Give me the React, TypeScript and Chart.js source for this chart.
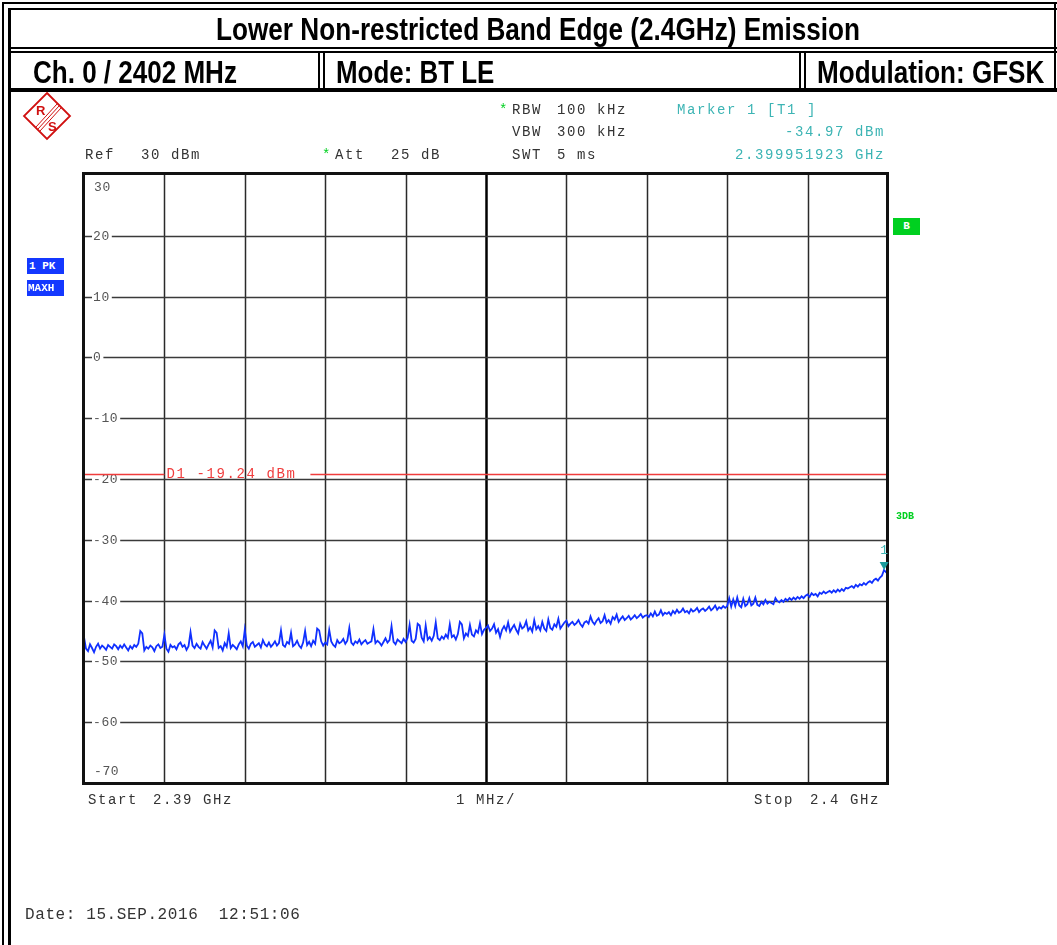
import React, { useEffect, useLayoutEffect, useRef, useState } from "react";
import { Chart, registerables } from "chart.js";

Chart.register(...registerables);

// ---- data ----
const START_GHZ = 2.39;
const STOP_GHZ = 2.4;
const REF_LEVEL_DBM = 30;
const BOTTOM_LEVEL_DBM = -70;
const Y_TICKS = [30, 20, 10, 0, -10, -20, -30, -40, -50, -60, -70];
const X_DIVISIONS = 10;
const D1_LEVEL_DBM = -19.24;
const D1_LABEL = "D1 -19.24 dBm";
const MARKER_FREQ_GHZ = 2.399951923;
const MARKER_DBM = -34.97;

const TRACE_DBM: number[] = [
  -46.0, -47.9, -48.3, -47.2, -47.8, -48.5, -47.6, -47.1, -47.9, -47.4,
  -47.7, -48.1, -47.3, -47.6, -47.9, -47.2, -47.5, -48.0, -47.4, -47.8,
  -47.2, -47.7, -48.2, -47.5, -47.9, -47.3, -47.6, -47.1, -45.0, -45.4,
  -48.2, -47.6, -47.9, -47.4, -47.7, -48.3, -47.5, -47.2, -47.8, -47.6,
  -45.6, -47.9, -48.4, -47.3, -47.7, -47.5, -48.0, -47.2, -46.9, -47.6,
  -47.3, -48.1, -47.5, -45.2, -47.4, -47.8, -47.1, -47.6, -47.9, -46.8,
  -47.4, -47.9, -47.2, -46.6, -47.7, -44.9, -45.3, -47.8, -47.5, -48.2,
  -47.0, -47.6, -45.4, -47.8, -47.3, -47.6, -48.0, -47.2, -46.7, -47.5,
  -44.8, -47.4, -47.9, -47.1, -46.8, -47.6, -47.3, -47.0, -47.7, -46.5,
  -47.2, -47.5, -46.9, -47.6, -47.2, -46.7, -47.4, -47.0, -44.9, -47.3,
  -47.6, -46.8, -47.1, -45.3, -47.5, -47.2, -46.6, -47.4, -47.8, -46.9,
  -45.0, -47.3, -46.8, -47.5, -46.6, -47.1, -44.6, -44.9, -46.7, -47.4,
  -46.9, -47.2, -44.8, -46.7, -47.3, -47.6, -46.5, -47.0, -46.8, -46.3,
  -47.1, -46.6, -44.5, -46.9, -47.3, -46.7, -47.0, -46.4, -47.2, -46.8,
  -46.5, -47.1, -46.9, -46.7, -44.7, -47.0, -46.6, -46.9, -47.4, -46.8,
  -46.2, -46.9, -46.5, -44.2, -46.8, -47.2, -46.4, -46.7, -47.0, -46.3,
  -46.8, -46.1, -44.0, -46.6, -46.9, -46.3, -43.8, -44.1, -46.1, -46.7,
  -44.1, -46.4, -46.0, -46.6, -45.8, -43.6, -46.2, -46.5, -45.9, -46.3,
  -45.6, -46.1, -43.9, -46.0, -45.7, -46.4, -45.5, -43.5, -43.9, -46.2,
  -45.4, -45.8, -44.0, -45.6, -45.9, -44.9, -45.3, -43.7, -45.5, -44.8,
  -44.5, -44.1, -45.0, -44.6, -43.9, -45.3, -44.7, -46.0, -44.8, -44.2,
  -44.9, -43.6, -45.1, -44.5, -44.0, -44.8, -45.4, -43.8, -44.6, -44.3,
  -43.4, -44.9, -44.4, -45.1, -43.2, -44.7, -44.2, -44.9, -43.5, -44.6,
  -45.0, -43.1, -44.5, -44.8, -43.9, -44.3, -43.0, -44.6, -44.1, -43.6,
  -43.3, -44.2, -43.8, -43.5, -44.0, -43.7, -43.2, -43.9, -44.3, -43.6,
  -43.4, -43.8, -42.6, -43.5, -43.9, -43.3, -42.9, -43.7, -43.4, -42.4,
  -43.6, -43.2, -43.8, -42.7, -43.1, -42.3, -43.5, -43.0, -42.6, -43.2,
  -42.9, -42.5, -43.1, -42.8, -42.4, -42.9, -42.6, -42.2, -42.8, -42.5,
  -42.4, -42.7, -42.1, -42.6, -41.8, -42.5, -42.3, -41.6, -42.4, -42.0,
  -42.2, -41.9, -42.4, -41.7, -42.1, -41.5, -42.0, -41.8, -41.3, -41.9,
  -41.7, -42.1, -41.4, -41.8, -41.6, -41.2, -41.9, -41.5, -41.3, -41.7,
  -41.4, -41.0, -41.6, -41.3, -40.8, -41.5, -41.1, -41.3, -40.9, -41.2,
  -40.9, -39.6, -41.0, -39.8, -40.9, -39.5, -40.8, -41.1, -39.7, -40.9,
  -40.6, -39.6, -40.8, -40.5, -39.5, -40.7, -40.9, -40.2, -40.6, -39.9,
  -40.5, -40.2, -40.4, -40.6, -39.6, -40.1, -40.3, -39.9, -40.2, -39.7,
  -40.0, -39.6, -39.9, -39.5, -39.8, -39.4, -39.7, -39.3, -39.6, -39.2,
  -39.0, -39.4, -38.8, -39.1, -38.9, -39.3, -38.7, -38.9, -38.5, -38.8,
  -38.6, -38.4, -38.7, -38.3, -38.6, -38.2, -38.5, -38.1, -38.4, -37.9,
  -38.0, -37.8, -37.6, -37.9, -37.4, -37.7, -37.3, -37.5, -37.1, -37.4,
  -37.0, -36.8, -37.1, -36.6, -36.4, -36.7, -36.2, -35.9, -34.97, -35.3,
  -35.1,
];

// ---- layout constants ----
const W = 1057;
const H = 945;
const PLOT_LEFT = 84;
const PLOT_RIGHT = 888;
const PLOT_TOP = 175;
const PLOT_BOTTOM = 783;

const MONO = '"Liberation Mono", "DejaVu Sans Mono", monospace';
const TEAL = "#3cb4b4";
const GREEN = "#00d020";

function FitText(props: { x: number; y: number; width: number; size: number; text: string }) {
  const ref = useRef<HTMLSpanElement>(null);
  const [sx, setSx] = useState(1);
  useLayoutEffect(() => {
    if (ref.current) {
      const w = ref.current.offsetWidth;
      if (w > 0) setSx(props.width / w);
    }
  }, [props.width, props.text]);
  return (
    <span
      ref={ref}
      style={{
        position: "absolute",
        left: props.x,
        top: props.y,
        fontSize: props.size,
        fontFamily: '"Liberation Sans", Arial, sans-serif',
        fontWeight: 700,
        whiteSpace: "nowrap",
        lineHeight: 1,
        color: "#000",
        transform: `scaleX(${sx})`,
        transformOrigin: "left top",
      }}
    >
      {props.text}
    </span>
  );
}

function MonoText(props: {
  x: number;
  y: number;
  text: string;
  color?: string;
  right?: boolean;
  size?: number;
  spacing?: number;
}) {
  const style: React.CSSProperties = {
    position: "absolute",
    top: props.y - 9,
    fontFamily: MONO,
    fontSize: props.size ?? 14,
    letterSpacing: `${props.spacing ?? 1.6}px`,
    lineHeight: "18px",
    whiteSpace: "pre",
    color: props.color ?? "#333",
  };
  if (props.right) style.right = W - props.x - 2;
  else style.left = props.x;
  return <span style={style}>{props.text}</span>;
}

function Box(props: { x: number; y: number; w: number; h: number; c?: string }) {
  return (
    <div
      style={{
        position: "absolute",
        left: props.x,
        top: props.y,
        width: props.w,
        height: props.h,
        background: props.c ?? "#000",
      }}
    />
  );
}

const spectrumPlugin = {
  id: "spectrumDecor",
  beforeDatasetsDraw(chart: any) {
    const { ctx, chartArea } = chart;
    const { left, right, top, bottom } = chartArea;
    const xs = chart.scales.x;
    const ys = chart.scales.y;
    ctx.save();
    ctx.fillStyle = "#fff";
    ctx.fillRect(left, top, right - left, bottom - top);

    // vertical grid
    for (let k = 1; k < X_DIVISIONS; k++) {
      const px = Math.round(xs.getPixelForValue(START_GHZ + ((STOP_GHZ - START_GHZ) * k) / X_DIVISIONS)) + 0.5;
      ctx.beginPath();
      ctx.strokeStyle = k === X_DIVISIONS / 2 ? "#000" : "#2a2a2a";
      ctx.lineWidth = k === X_DIVISIONS / 2 ? 2.5 : 1.5;
      ctx.moveTo(px, top);
      ctx.lineTo(px, bottom);
      ctx.stroke();
    }

    // horizontal grid + labels
    ctx.font = `13px ${MONO}`;
    (ctx as any).letterSpacing = "0.6px";
    ctx.textBaseline = "middle";
    ctx.textAlign = "left";
    for (const v of Y_TICKS) {
      const py = Math.round(ys.getPixelForValue(v)) + 0.5;
      const label = String(v);
      const tw = ctx.measureText(label).width;
      if (v === REF_LEVEL_DBM || v === BOTTOM_LEVEL_DBM) {
        ctx.fillStyle = "#555";
        ctx.fillText(label, left + 10, v === REF_LEVEL_DBM ? py + 12 : py - 12);
        continue;
      }
      ctx.strokeStyle = "#3a3a3a";
      ctx.lineWidth = 1.6;
      ctx.beginPath();
      ctx.moveTo(left, py);
      ctx.lineTo(left + 8, py);
      ctx.moveTo(left + 9 + tw + 2, py);
      ctx.lineTo(right, py);
      ctx.stroke();
      ctx.fillStyle = "#555";
      ctx.fillText(label, left + 9, py);
    }

    // display line D1
    const dy = Math.round(ys.getPixelForValue(D1_LEVEL_DBM)) + 0.5;
    ctx.font = `14px ${MONO}`;
    (ctx as any).letterSpacing = "1.6px";
    const lx = xs.getPixelForValue(START_GHZ + (STOP_GHZ - START_GHZ) / X_DIVISIONS) + 2;
    const lw = ctx.measureText(D1_LABEL).width;
    ctx.strokeStyle = "#f03c3c";
    ctx.lineWidth = 1.5;
    ctx.beginPath();
    ctx.moveTo(left, dy);
    ctx.lineTo(lx - 2, dy);
    ctx.moveTo(lx + lw + 14, dy);
    ctx.lineTo(right, dy);
    ctx.stroke();
    ctx.fillStyle = "#f03c3c";
    ctx.fillText(D1_LABEL, lx, dy);
    ctx.restore();
  },
  afterDatasetsDraw(chart: any) {
    const { ctx, chartArea } = chart;
    const { left, right, top, bottom } = chartArea;
    const xs = chart.scales.x;
    const ys = chart.scales.y;
    ctx.save();
    // frame
    ctx.strokeStyle = "#111";
    ctx.lineWidth = 3;
    ctx.strokeRect(left - 0.5, top - 1.5, right - left, bottom - top + 2);
    // marker
    const mx = xs.getPixelForValue(MARKER_FREQ_GHZ);
    const my = ys.getPixelForValue(MARKER_DBM);
    ctx.fillStyle = "#1a9c9c";
    ctx.beginPath();
    ctx.moveTo(mx - 4.5, my - 8);
    ctx.lineTo(mx + 4.5, my - 8);
    ctx.lineTo(mx, my);
    ctx.closePath();
    ctx.fill();
    ctx.font = `13px ${MONO}`;
    ctx.fillStyle = TEAL;
    ctx.textAlign = "center";
    ctx.textBaseline = "middle";
    ctx.fillText("1", mx, my - 19);
    ctx.restore();
  },
};

function SpectrumChart() {
  const canvasRef = useRef<HTMLCanvasElement>(null);
  useEffect(() => {
    if (!canvasRef.current) return;
    const n = TRACE_DBM.length;
    const points = TRACE_DBM.map((v, i) => ({
      x: START_GHZ + ((STOP_GHZ - START_GHZ) * i) / (n - 1),
      y: v,
    }));
    const chart = new Chart(canvasRef.current, {
      type: "line",
      data: {
        datasets: [
          {
            data: points,
            borderColor: "#1030ff",
            borderWidth: 1.8,
            pointRadius: 0,
            tension: 0,
          },
        ],
      },
      options: {
        responsive: false,
        animation: false,
        devicePixelRatio: 1,
        layout: {
          padding: {
            left: PLOT_LEFT,
            top: PLOT_TOP,
            right: W - PLOT_RIGHT,
            bottom: H - PLOT_BOTTOM,
          },
        },
        scales: {
          x: { type: "linear", min: START_GHZ, max: STOP_GHZ, display: false },
          y: { type: "linear", min: BOTTOM_LEVEL_DBM, max: REF_LEVEL_DBM, display: false },
        },
        plugins: { legend: { display: false }, tooltip: { enabled: false } },
      },
      plugins: [spectrumPlugin],
    });
    return () => chart.destroy();
  }, []);
  return <canvas ref={canvasRef} width={W} height={H} style={{ position: "absolute", left: 0, top: 0 }} />;
}

function Logo() {
  return (
    <svg width={50} height={50} style={{ position: "absolute", left: 22, top: 91 }} viewBox="0 0 50 50">
      <polygon points="25,2 48,25 25,48 2,25" fill="none" stroke="#d01010" strokeWidth={1.8} />
      <line x1="35" y1="13" x2="14" y2="36" stroke="#d01010" strokeWidth={1} />
      <line x1="37" y1="15" x2="16" y2="38" stroke="#d01010" strokeWidth={1} />
      <line x1="39" y1="17" x2="18" y2="40" stroke="#d01010" strokeWidth={1} />
      <text x="14" y="24" fontSize="13" fontWeight={700} fill="#d01010" fontFamily='"Liberation Sans", sans-serif'>R</text>
      <text x="26" y="40" fontSize="13" fontWeight={700} fill="#d01010" fontFamily='"Liberation Sans", sans-serif'>S</text>
    </svg>
  );
}

export default function App() {
  return (
    <div style={{ position: "fixed", left: 0, top: 0, width: W, height: H, background: "#fff", overflow: "hidden" }}>
      <SpectrumChart />

      {/* page frame */}
      <Box x={2} y={2} w={2} h={H} />
      <Box x={8} y={8} w={3} h={H} />
      <Box x={2} y={2} w={W} h={2} />
      <Box x={8} y={8} w={W} h={2} />
      <Box x={1054} y={2} w={2} h={90} />
      <Box x={8} y={47} w={W} h={2} />
      <Box x={8} y={51} w={W} h={2} />
      <Box x={8} y={88} w={W} h={4} />
      <Box x={318} y={51} w={2} h={39} />
      <Box x={323} y={51} w={2} h={39} />
      <Box x={799} y={51} w={2} h={39} />
      <Box x={804} y={51} w={2} h={39} />

      <FitText x={216} y={14} width={644} size={31} text="Lower Non-restricted Band Edge (2.4GHz) Emission" />
      <FitText x={33} y={57} width={204} size={31} text="Ch. 0 / 2402 MHz" />
      <FitText x={336} y={57} width={158} size={31} text="Mode: BT LE" />
      <FitText x={817} y={57} width={227} size={31} text="Modulation: GFSK" />

      <Logo />

      {/* instrument settings */}
      <MonoText x={85} y={155} text="Ref" />
      <MonoText x={141} y={155} text="30 dBm" />
      <MonoText x={322} y={155} text="*" color={GREEN} />
      <MonoText x={335} y={155} text="Att" />
      <MonoText x={391} y={155} text="25 dB" />
      <MonoText x={499} y={110} text="*" color={GREEN} />
      <MonoText x={512} y={110} text="RBW" />
      <MonoText x={557} y={110} text="100 kHz" />
      <MonoText x={512} y={132} text="VBW" />
      <MonoText x={557} y={132} text="300 kHz" />
      <MonoText x={512} y={155} text="SWT" />
      <MonoText x={557} y={155} text="5 ms" />
      <MonoText x={677} y={110} text="Marker 1 [T1 ]" color={TEAL} />
      <MonoText x={883} y={132} text="-34.97 dBm" color={TEAL} right />
      <MonoText x={883} y={155} text="2.399951923 GHz" color={TEAL} right />

      <MonoText x={88} y={800} text="Start" />
      <MonoText x={153} y={800} text="2.39 GHz" />
      <MonoText x={456} y={800} text="1 MHz/" />
      <MonoText x={754} y={800} text="Stop" />
      <MonoText x={810} y={800} text="2.4 GHz" />
      <MonoText x={25} y={915} text="Date: 15.SEP.2016  12:51:06" size={16} spacing={0.6} />

      {/* trace / status labels */}
      <div style={{ position: "absolute", left: 27, top: 258, width: 37, height: 16, background: "#1438ff", color: "#fff", fontFamily: MONO, fontWeight: 700, fontSize: 11, lineHeight: "16px", paddingLeft: 2, boxSizing: "border-box", whiteSpace: "pre" }}>1 PK</div>
      <div style={{ position: "absolute", left: 27, top: 280, width: 37, height: 16, background: "#1438ff", color: "#fff", fontFamily: MONO, fontWeight: 700, fontSize: 11, lineHeight: "16px", paddingLeft: 1, boxSizing: "border-box", overflow: "hidden" }}>MAXH</div>
      <div style={{ position: "absolute", left: 893, top: 218, width: 27, height: 17, background: GREEN, color: "#fff", fontFamily: MONO, fontWeight: 700, fontSize: 11, lineHeight: "17px", textAlign: "center" }}>B</div>
      <div style={{ position: "absolute", left: 896, top: 511, color: GREEN, fontFamily: MONO, fontWeight: 700, fontSize: 10, lineHeight: "12px" }}>3DB</div>
    </div>
  );
}
